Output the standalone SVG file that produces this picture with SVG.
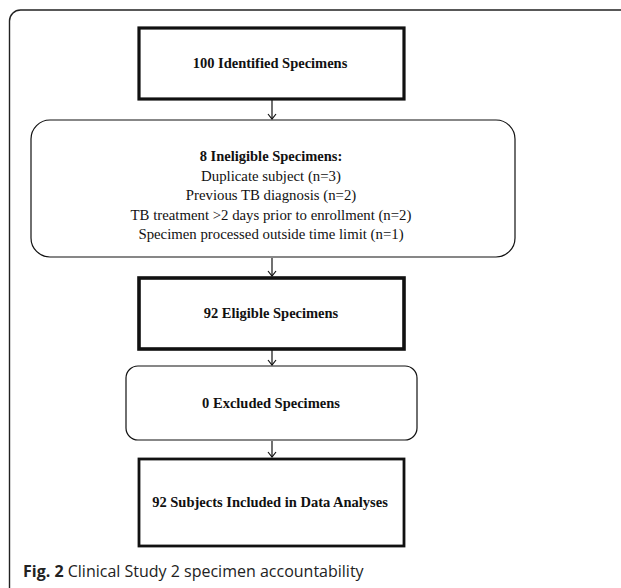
<svg xmlns="http://www.w3.org/2000/svg" width="621" height="588" viewBox="0 0 621 588">
<style>
.b{font-family:"Liberation Serif","Times New Roman",serif;font-weight:bold;font-size:14.5px;fill:#111;text-anchor:middle}
.r{font-family:"Liberation Serif","Times New Roman",serif;font-size:14.8px;fill:#111;text-anchor:middle}
.thick{fill:#fff;stroke:#111;stroke-width:3.2}
.thin{fill:#fff;stroke:#111;stroke-width:1.2}
.c{stroke:#111;stroke-width:1.2;fill:none}
.cap{font-family:"Open Sans","Noto Sans",sans-serif;font-size:16px;fill:#222}
</style>
<defs>
<marker id="ah" markerWidth="10" markerHeight="10" refX="6" refY="5" orient="auto" markerUnits="userSpaceOnUse" viewBox="0 0 10 10">
<path d="M1,1 L6,5 L1,9" fill="none" stroke="#111" stroke-width="1.2"/>
</marker>
</defs>
<rect width="621" height="588" fill="#fff"/>
<path d="M9.5,588 L9.5,21 A11,11 0 0 1 20.5,10 L621,10" fill="none" stroke="#222" stroke-width="1.4"/>
<g id="connectors">
<line class="c" x1="272" y1="100" x2="272" y2="119" marker-end="url(#ah)"/>
<line class="c" x1="272" y1="258" x2="272" y2="276" marker-end="url(#ah)"/>
<line class="c" x1="272" y1="350" x2="272" y2="365" marker-end="url(#ah)"/>
<line class="c" x1="272" y1="441" x2="272" y2="457" marker-end="url(#ah)"/>
</g>
<g id="n1">
<rect class="thick" x="139" y="28" width="265" height="71"/>
<text class="b" x="270" y="68">100 Identified Specimens</text>
</g>
<g id="n2">
<rect class="thin" x="31" y="120" width="484" height="137" rx="19" ry="19"/>
<text class="b" x="271" y="161">8 Ineligible Specimens:</text>
<text class="r" x="271" y="180.5">Duplicate subject (n=3)</text>
<text class="r" x="271" y="200">Previous TB diagnosis (n=2)</text>
<text class="r" x="271" y="219.5">TB treatment &gt;2 days prior to enrollment (n=2)</text>
<text class="r" x="271" y="239">Specimen processed outside time limit (n=1)</text>
</g>
<g id="n3">
<rect class="thick" x="139" y="278" width="265" height="71" style="stroke-width:3.6"/>
<text class="b" x="271" y="318">92 Eligible Specimens</text>
</g>
<g id="n4">
<rect class="thin" x="126" y="366" width="291" height="74" rx="12" ry="12"/>
<text class="b" x="271" y="408">0 Excluded Specimens</text>
</g>
<g id="n5">
<rect class="thick" x="139" y="459" width="265" height="87" style="stroke-width:2.8"/>
<text class="b" x="270" y="507">92 Subjects Included in Data Analyses</text>
</g>
<text class="cap" x="23" y="577"><tspan font-weight="bold">Fig. 2</tspan> Clinical Study 2 specimen accountability</text>
</svg>
